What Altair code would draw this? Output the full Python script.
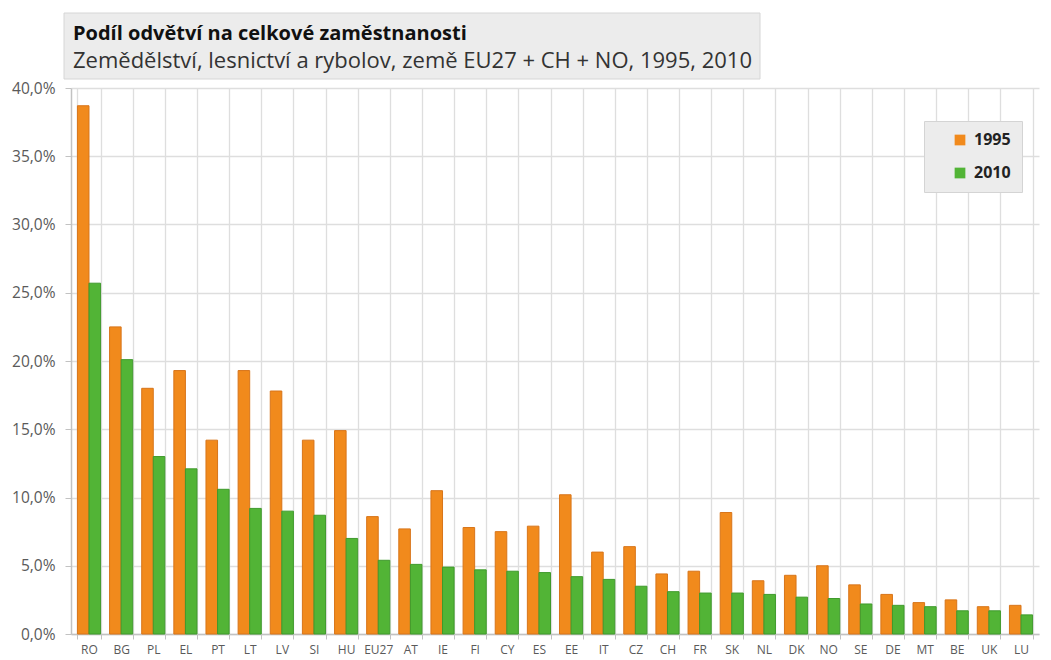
import altair as alt
import pandas as pd

countries = ["RO", "BG", "PL", "EL", "PT", "LT", "LV", "SI", "HU", "EU27", "AT", "IE", "FI", "CY", "ES",
             "EE", "IT", "CZ", "CH", "FR", "SK", "NL", "DK", "NO", "SE", "DE", "MT", "BE", "UK", "LU"]
v1995 = [38.7, 22.5, 18.0, 19.3, 14.2, 19.3, 17.8, 14.2, 14.9, 8.6, 7.7, 10.5, 7.8, 7.5, 7.9,
         10.2, 6.0, 6.4, 4.4, 4.6, 8.9, 3.9, 4.3, 5.0, 3.6, 2.9, 2.3, 2.5, 2.0, 2.1]
v2010 = [25.7, 20.1, 13.0, 12.1, 10.6, 9.2, 9.0, 8.7, 7.0, 5.4, 5.1, 4.9, 4.7, 4.6, 4.5,
         4.2, 4.0, 3.5, 3.1, 3.0, 3.0, 2.9, 2.7, 2.6, 2.2, 2.1, 2.0, 1.7, 1.7, 1.4]
years = ["1995", "2010"]
title_text = "Podíl odvětví na celkové zaměstnanosti"
subtitle_text = "Zemědělství, lesnictví a rybolov, země EU27 + CH + NO, 1995, 2010"

rows = []
for c, a, b in zip(countries, v1995, v2010):
    rows.append({"country": c, "year": years[0], "value": a / 100})
    rows.append({"country": c, "year": years[1], "value": b / 100})
df = pd.DataFrame(rows)

FONT = "Open Sans"
fill_colors = ["#f18a1c", "#52b436"]
stroke_colors = ["#d8751a", "#3f9a2c"]
GRID = "#dedede"
AXIS = "#c2c2c2"

bars = alt.Chart(df).mark_bar(strokeWidth=1).encode(
    x=alt.X("country:N", sort=countries,
            scale=alt.Scale(paddingInner=0.28, paddingOuter=0.2),
            axis=alt.Axis(title=None, labelAngle=0, tickBand="extent", grid=True,
                          gridColor=GRID, gridWidth=1.3, tickSize=5, tickColor=AXIS,
                          domainColor=AXIS, domainWidth=1.5, labelFont=FONT, labelFontSize=12,
                          labelColor="#5a5a5a", labelPadding=5)),
    xOffset=alt.XOffset("year:N", sort=years),
    y=alt.Y("value:Q", scale=alt.Scale(domain=[0, 0.4]),
            axis=alt.Axis(title=None, values=[i * 0.05 for i in range(9)],
                          labelExpr="replace(format(datum.value, '.1%'), '.', ',')",
                          grid=True, gridColor=GRID, gridWidth=1.3, tickSize=6,
                          tickColor=AXIS, domainColor=AXIS, domainWidth=1.5, labelFont=FONT,
                          labelFontSize=15.5, labelColor="#5a5a5a", labelPadding=10)),
    color=alt.Color("year:N", scale=alt.Scale(domain=years, range=fill_colors),
                    legend=alt.Legend(title=None, orient="none", legendX=853, legendY=108,
                                      fillColor="#ececec", strokeColor="#d4d4d4",
                                      padding=11, symbolOffset=17, symbolType="square",
                                      symbolSize=115, symbolStrokeWidth=0, labelFont=FONT,
                                      labelFontSize=16, labelFontWeight="bold",
                                      labelColor="#222222", rowPadding=17, labelOffset=6)),
    stroke=alt.Stroke("year:N", scale=alt.Scale(domain=years, range=stroke_colors), legend=None),
).properties(width=968, height=546, view=alt.ViewBackground(stroke="transparent"))

head_df = pd.DataFrame({"t": [title_text], "s": [subtitle_text]})
box = alt.Chart(head_df).mark_rect(fill="#ececec", stroke="#d6d6d6", strokeWidth=1).encode(
    x=alt.value(-7), x2=alt.value(689), y=alt.value(0), y2=alt.value(66))
title_mark = alt.Chart(head_df).mark_text(align="left", baseline="alphabetic", font=FONT,
                                          fontSize=20, fontWeight="bold", color="#111111").encode(
    text="t:N", x=alt.value(2), y=alt.value(27))
sub_mark = alt.Chart(head_df).mark_text(align="left", baseline="alphabetic", font=FONT,
                                       fontSize=22, color="#333333").encode(
    text="s:N", x=alt.value(2), y=alt.value(55))
header = alt.layer(box, title_mark, sub_mark).properties(
    width=682, height=66, view=alt.ViewBackground(stroke="transparent"))

chart = alt.vconcat(header, bars, spacing=9, bounds="flush").properties(
    padding={"left": 3, "top": 4, "right": 0, "bottom": 0}
).configure(background="white")

chart.save("out.html", embed_options={"renderer": "svg", "actions": False})
